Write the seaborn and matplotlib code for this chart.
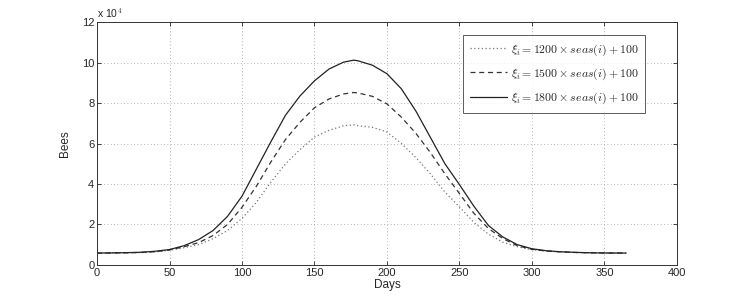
import seaborn as sns
import matplotlib.pyplot as plt
import pandas as pd

# days sampled along the season
days = [0, 10, 20, 30, 40, 50, 60, 70, 80, 90, 100, 110, 120, 130, 140, 150, 160, 170, 177,
        180, 190, 200, 210, 220, 230, 240, 250, 260, 270, 280, 290, 300, 310, 320, 330, 340, 350, 365]

# bee counts
bees_1200 = [5850, 5900, 6000, 6100, 6400, 7200, 8500, 10000, 13000, 17000, 23000, 31000, 41000, 50000,
             57000, 63200, 66500, 68800, 69200, 68800, 68000, 65700, 60000, 53000, 45000, 36000, 28700,
             21000, 15200, 11200, 9000, 7500, 6800, 6400, 6150, 6000, 5900, 5850]
bees_1500 = [5850, 5900, 6000, 6150, 6550, 7400, 9000, 11000, 14500, 20000, 28500, 39000, 51000, 62000,
             70500, 77700, 82000, 84500, 85200, 85000, 83300, 79600, 73000, 65000, 55500, 45000, 35300,
             25500, 18000, 13000, 9500, 7700, 6900, 6450, 6150, 6000, 5900, 5850]
bees_1800 = [5850, 5950, 6050, 6250, 6750, 7600, 9500, 12500, 17000, 24000, 34000, 47500, 61000, 74000,
             83500, 91000, 96800, 100200, 101200, 100900, 98700, 94500, 87000, 76000, 63000, 50000, 39700,
             29000, 19500, 13800, 10000, 8000, 7000, 6500, 6200, 6000, 5900, 5850]

labels = [r"$\xi_i = 1200 \times seas(i) + 100$",
          r"$\xi_i = 1500 \times seas(i) + 100$",
          r"$\xi_i = 1800 \times seas(i) + 100$"]

df = pd.DataFrame({"day": days * 3,
                   "bees": [b / 1e4 for b in bees_1200 + bees_1500 + bees_1800],
                   "series": [labels[0]] * len(days) + [labels[1]] * len(days) + [labels[2]] * len(days)})

sns.set_style("white")
plt.rcParams["font.family"] = ["Liberation Sans", "DejaVu Sans"]
plt.rcParams["mathtext.fontset"] = "cm"

fig = plt.figure(figsize=(7.47, 2.99), dpi=100)
ax = fig.add_axes([0.130, 0.114, 0.776, 0.812])

styles = [((0, (1, 2)), "#777777", 0.9), ((0, (4, 3)), "#333333", 0.9), ("-", "#222222", 0.9)]
for lab, (ls, col, lw) in zip(labels, styles):
    sns.lineplot(data=df[df["series"] == lab], x="day", y="bees", ax=ax,
                 color=col, linestyle=ls, linewidth=lw, label=lab)

ax.set_xlim(0, 400)
ax.set_ylim(0, 12)
ax.set_xticks(range(0, 401, 50))
ax.set_yticks(range(0, 13, 2))
ax.grid(True, linestyle=(0, (1, 3)), color="#999999", linewidth=0.6)
ax.tick_params(direction="in", length=3, labelsize=8, top=True, right=True,
               bottom=True, left=True, width=0.6, pad=2)
for s in ax.spines.values():
    s.set_linewidth(0.7)
    s.set_color("#333333")
ax.set_xlabel("Days", fontsize=8.5, labelpad=1)
ax.set_ylabel("Bees", fontsize=8.5, labelpad=8)
ax.text(0.0, 1.01, r"x 10$^4$", transform=ax.transAxes, fontsize=7.5, ha="left", va="bottom")

leg = ax.legend(loc="upper right", bbox_to_anchor=(0.946, 0.946), fontsize=8.5, frameon=True,
                fancybox=False, edgecolor="#333333", handlelength=3.1, handletextpad=0.35,
                borderpad=0.6, labelspacing=0.75, borderaxespad=0)
leg.get_frame().set_linewidth(0.7)

plt.savefig("out.png", dpi=100)
